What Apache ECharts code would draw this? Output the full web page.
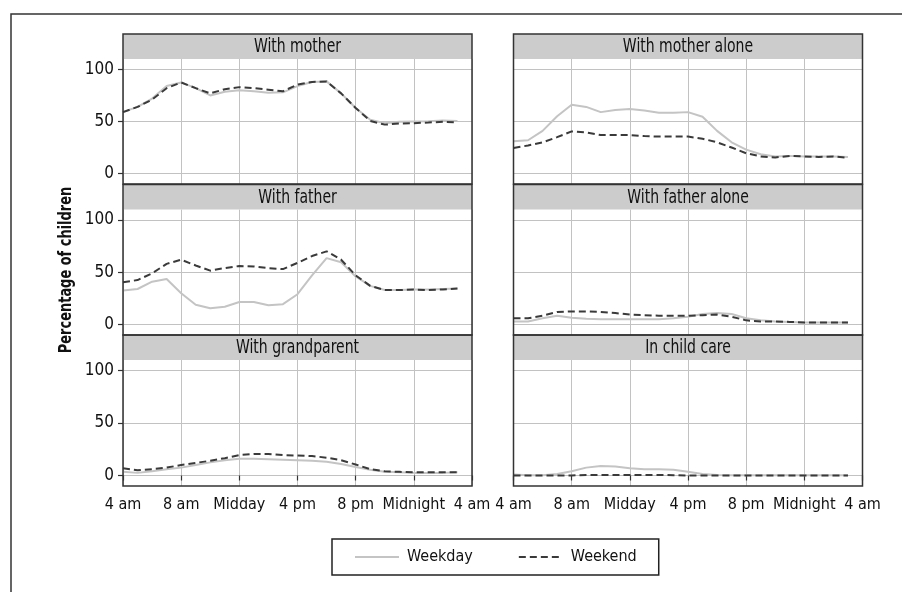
<!DOCTYPE html>
<html>
<head>
<meta charset="utf-8">
<script src="https://cdn.jsdelivr.net/npm/echarts@6/dist/echarts.min.js"></script>
<style>
html,body{margin:0;padding:0;background:#fff;}
#chart{width:902px;height:592px;}
</style>
</head>
<body>
<div id="chart"></div>
<script>
// ---- data ----
const hours = [4,5,6,7,8,9,10,11,12,13,14,15,16,17,18,19,20,21,22,23,24,25,26,27];
const xTickValues = [4,8,12,16,20,24,28];
const xTickLabels = ['4 am','8 am','Midday','4 pm','8 pm','Midnight','4 am'];
const yTickValues = [0,50,100];
const panelTitles = ['With mother','With mother alone','With father','With father alone','With grandparent','In child care'];
const yTitle = 'Percentage of children';

const motherWeekday = [59,64,72,84,87.5,82,75,78.5,80,79,77.5,78,84,88,88.5,77,63,51.6,48.4,49.7,50,50.3,51,50.6];
const motherWeekend = [59,64,71,82,87.5,82,77,81,83,82,80.5,79,85.5,88,88.5,77,63,50.6,47,48,48.4,49,49.7,49];
const motherAloneWeekday = [31,32,41,55,66,64,59,61,62,60.5,58.5,58.5,59,54.5,41,30,23,18.5,16.5,17,16.5,16.5,16.5,16];
const motherAloneWeekend = [24.5,27,30,35,40.5,39.5,37,37,37,36,35.5,35.5,35.5,33.5,30,25,19.5,16.5,15.5,17,16.5,16,16.5,15];
const fatherWeekday = [32.5,34,41,43.5,30,19,15.5,17,21.5,21.5,18.5,19.5,29,47,63.5,59.5,46,37,33,33,33.5,33.5,34,34.5];
const fatherWeekend = [40.5,42.5,49,58,62,56.5,51.5,54,56,55.5,54,53,59,65.5,70,62,47,37,33,33,33.5,33,33.5,34.5];
const fatherAloneWeekday = [3,3,6,8.5,6.5,5.5,5,5,5,5,5,6,7.5,10,11,10,6,4,3,2.5,2,2,2,2];
const fatherAloneWeekend = [6,6,8.5,12,12.5,12.5,12,11,9.5,9,8.5,8.5,8.5,9,9.5,7.5,4,3,3,2.5,2,2,2,2];
const grandparentWeekday = [3.5,2.5,4,6,7.5,10,12.5,14.5,16,16,15.5,15,14.5,14,13,11,8,5.5,3.5,3,2.5,2.5,2.5,3];
const grandparentWeekend = [7,5,6,7.5,10,12,14,16.5,19.5,20.5,20.5,19.5,19,18.5,17,14.5,10.5,6,4,3.5,3,3,3,3];
const childCareWeekday = [1,0.3,0.3,1.5,4,7.5,9,8.5,7,6,6,5.5,3.5,1.5,0.5,0.3,0.3,0.3,0.3,0.3,0.3,0.3,0.3,0.3];
const childCareWeekend = [0,0,0,0,0,0.5,0.5,0.5,0.5,0.5,0.5,0.3,0,0,0,0,0,0,0,0,0,0,0,0];

const weekdaySets = [motherWeekday, motherAloneWeekday, fatherWeekday, fatherAloneWeekday, grandparentWeekday, childCareWeekday];
const weekendSets = [motherWeekend, motherAloneWeekend, fatherWeekend, fatherAloneWeekend, grandparentWeekend, childCareWeekend];

// ---- layout ----
const FONT = '"Liberation Sans Narrow","DejaVu Sans Condensed","Liberation Sans",sans-serif';
const colLeft = [123, 513.5];
const colWidth = 349;
const headerTop = [34, 184.5, 335];
const headerH = 25;
const plotTop = [59, 209.5, 360];
const plotH = [125, 125.5, 126];

const grids = [], xAxes = [], yAxes = [], series = [], graphics = [];
const pairs = arr => hours.map((h, i) => [h, arr[i]]);

for (let p = 0; p < 6; p++) {
  const row = Math.floor(p / 2), col = p % 2;
  grids.push({left: colLeft[col], top: plotTop[row], width: colWidth, height: plotH[row], show: false});
  const bottomRow = row === 2;
  xAxes.push({
    type: 'value', gridIndex: p, min: 4, max: 28, interval: 4,
    axisLine: {show: false},
    axisTick: {show: bottomRow, length: 5, lineStyle: {color: '#333', width: 1.2}},
    axisLabel: {show: bottomRow, margin: 11, color: '#111', fontFamily: FONT, fontSize: 16,
      showMinLabel: true, showMaxLabel: true,
      formatter: v => { const k = xTickValues.indexOf(v); return k >= 0 ? xTickLabels[k] : ''; }},
    splitLine: {show: true, lineStyle: {color: '#c2c2c2', width: 1}}
  });
  const leftCol = col === 0;
  yAxes.push({
    type: 'value', gridIndex: p, min: -10, max: 110,
    axisLine: {show: false},
    axisTick: {show: leftCol, length: 5, customValues: yTickValues, lineStyle: {color: '#333', width: 1.2}},
    axisLabel: {show: leftCol, margin: 9, color: '#111', fontFamily: FONT, fontSize: 17, customValues: yTickValues},
    splitLine: {show: true, lineStyle: {color: '#c2c2c2', width: 1}}
  });
  series.push({
    name: 'Weekday', type: 'line', xAxisIndex: p, yAxisIndex: p, data: pairs(weekdaySets[p]),
    symbol: 'none', silent: true, z: 3,
    lineStyle: {color: '#c4c4c4', width: 2},
    itemStyle: {color: '#c4c4c4'}
  });
  series.push({
    name: 'Weekend', type: 'line', xAxisIndex: p, yAxisIndex: p, data: pairs(weekendSets[p]),
    symbol: 'none', silent: true, z: 4,
    lineStyle: {color: '#3a3a3a', width: 2, type: [7, 4]},
    itemStyle: {color: '#3a3a3a'}
  });
  // strip header
  graphics.push({
    type: 'rect', z: 50,
    shape: {x: colLeft[col], y: headerTop[row], width: colWidth, height: headerH},
    style: {fill: '#cccccc', stroke: null}
  });
  graphics.push({
    type: 'text', z: 51,
    x: colLeft[col] + colWidth / 2, y: headerTop[row] + headerH / 2 + 1,
    scaleX: 0.82,
    style: {text: panelTitles[p], font: '19px ' + FONT, fill: '#111', align: 'center', verticalAlign: 'middle'}
  });
  // panel border
  graphics.push({
    type: 'rect', z: 60,
    shape: {x: colLeft[col], y: headerTop[row], width: colWidth, height: plotTop[row] + plotH[row] - headerTop[row]},
    style: {fill: null, stroke: '#333', lineWidth: 1.5}
  });
}
// y-axis title
graphics.push({
  type: 'text', z: 51,
  x: 66, y: 270, rotation: Math.PI / 2, scaleX: 0.8,
  style: {text: yTitle, font: 'bold 18px ' + FONT, fill: '#111', align: 'center', verticalAlign: 'middle'}
});
// outer frame
graphics.push({
  type: 'rect', z: 0,
  shape: {x: 11, y: 14, width: 900, height: 600},
  style: {fill: null, stroke: '#333', lineWidth: 1.5}
});

const chart = echarts.init(document.getElementById('chart'), null, {renderer: 'canvas'});
chart.setOption({
  animation: false,
  backgroundColor: '#fff',
  grid: grids,
  xAxis: xAxes,
  yAxis: yAxes,
  series: series,
  graphic: graphics,
  legend: {
    data: ['Weekday', 'Weekend'],
    left: 332, top: 539,
    orient: 'horizontal',
    itemWidth: 44, itemHeight: 20, itemGap: 45,
    padding: [10, 22],
    borderColor: '#222', borderWidth: 1.5,
    selectedMode: false,
    itemStyle: {color: 'rgba(0,0,0,0)', borderWidth: 0, opacity: 0},
    textStyle: {fontFamily: FONT, fontSize: 16, color: '#111', padding: [0, 0, 0, 3]}
  }
});
</script>
</body>
</html>
